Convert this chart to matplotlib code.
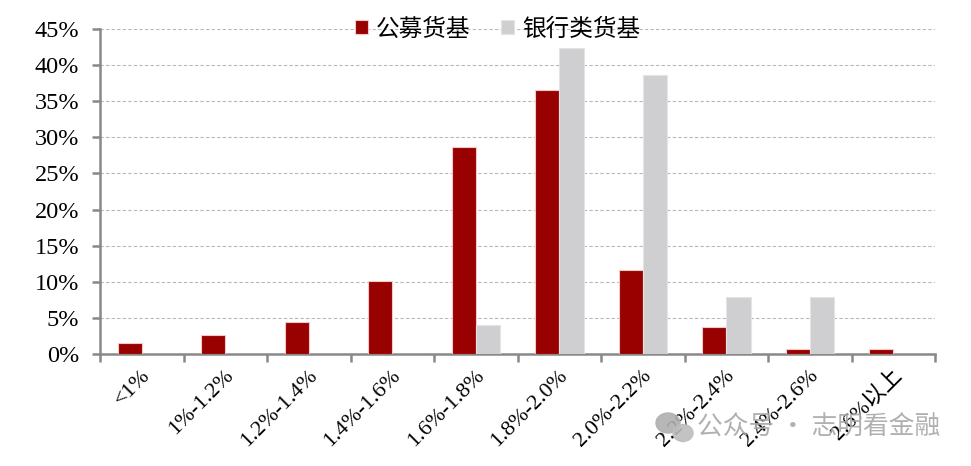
import matplotlib
matplotlib.use("Agg")
import matplotlib.pyplot as plt
import matplotlib.transforms as mtrans
from matplotlib.patches import Ellipse
import numpy as np
from matplotlib.ticker import FixedLocator, FuncFormatter

categories = ["<1%", "1%-1.2%", "1.2%-1.4%", "1.4%-1.6%", "1.6%-1.8%",
              "1.8%-2.0%", "2.0%-2.2%", "2.2%-2.4%", "2.4%-2.6%", "2.6%以上"]
public_mmf = [1.6, 2.6, 4.4, 10.1, 28.7, 36.6, 11.6, 3.7, 0.7, 0.7]
bank_mmf = [0.0, 0.0, 0.0, 0.0, 4.0, 42.4, 38.6, 7.9, 7.9, 0.0]
series_names = ["公募货基", "银行类货基"]
yticks = [0, 5, 10, 15, 20, 25, 30, 35, 40, 45]

serif = ["Liberation Serif", "Noto Sans CJK SC", "DejaVu Sans"]
cjk = ["Noto Sans CJK SC", "DejaVu Sans"]

W, H = 971, 466
fig = plt.figure(figsize=(W / 100, H / 100), dpi=100)
ax = fig.add_axes([0.103, 0.240, 0.860, 0.698])

x = np.arange(len(categories))
w = 0.29
ax.bar(x - w / 2, public_mmf, width=w, color="#990000", edgecolor="#F2C8C8",
       linewidth=0.8, label=series_names[0], zorder=3)
ax.bar(x + w / 2, bank_mmf, width=w, color="#CFCED0", edgecolor="#E4E4E4",
       linewidth=0.8, label=series_names[1], zorder=3)

ax.set_xlim(-0.5, len(categories) - 0.5)
ax.set_ylim(0, 45)
ax.yaxis.set_major_locator(FixedLocator(yticks))
ax.yaxis.set_major_formatter(FuncFormatter(lambda v, p: f"{int(v)}%"))
ax.grid(axis="y", color="#B8B8B8", linestyle=(0, (3, 2)), linewidth=0.8, zorder=0)

for s in ["top", "right"]:
    ax.spines[s].set_visible(False)
for s in ["left", "bottom"]:
    ax.spines[s].set_color("#888888")
    ax.spines[s].set_linewidth(1.8)

ax.tick_params(axis="y", direction="out", length=6, width=1.8, color="#888888",
               labelsize=17.5, pad=9)
for lab in ax.get_yticklabels():
    lab.set_fontfamily(serif)

ax.set_xticks(x)
ax.set_xticklabels(categories, rotation=45, ha="right", va="top",
                   rotation_mode="anchor", fontsize=16, family=serif)
ax.tick_params(axis="x", which="major", length=0, pad=8.5)
ax.set_xticks(np.arange(-0.5, len(categories)), minor=True)
ax.tick_params(axis="x", which="minor", direction="out", length=6, width=1.8,
               color="#888888")
offset = mtrans.ScaledTranslation(-1 / 100, 0, fig.dpi_scale_trans)
for lab in ax.get_xticklabels():
    lab.set_transform(lab.get_transform() + offset)

leg = ax.legend(loc="center", bbox_to_anchor=(0.476, 1.0), ncol=2, frameon=False,
                prop={"family": cjk, "size": 17}, handlelength=0.55,
                handleheight=0.55, handletextpad=0.35, columnspacing=1.3)

# watermark
fig.text(940 / W, 1 - 428 / H, "公众号 · 志明看金融", ha="right", va="center",
         fontsize=18.5, color="#A8A8A8", family=cjk, alpha=0.9, zorder=10)
fig.add_artist(Ellipse((668 / W, 1 - 423 / H), 24 / W, 20 / H,
                       transform=fig.transFigure, color="#B0B0B0", alpha=0.9,
                       zorder=10))
fig.add_artist(Ellipse((683 / W, 1 - 433 / H), 20 / W, 17 / H,
                       transform=fig.transFigure, color="#BDBDBD", alpha=0.9,
                       zorder=10))

fig.savefig("out.png", dpi=100)
